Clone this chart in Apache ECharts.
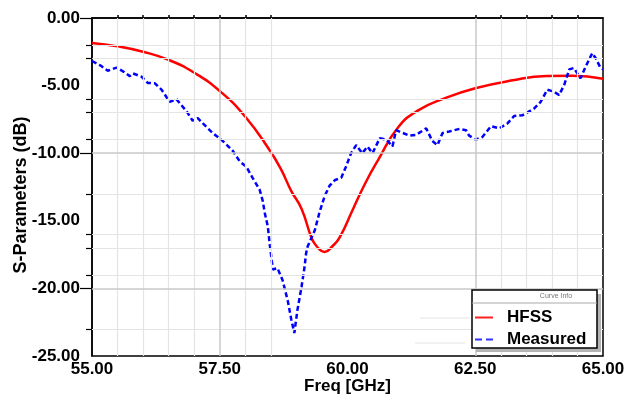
<!DOCTYPE html>
<html>
<head>
<meta charset="utf-8">
<script src="https://cdn.jsdelivr.net/npm/echarts@6/dist/echarts.min.js"></script>
<style>
  html, body { margin: 0; padding: 0; background: #fff; }
  #chart { width: 629px; height: 396px; }
</style>
</head>
<body>
<div id="chart"></div>
<script>
// HFSS simulation (red)
const hfssFreq = [55.0, 55.5, 56.0, 56.5, 57.0, 57.5, 58.0, 58.48, 58.7, 58.9, 59.1, 59.3, 59.4, 59.55, 59.7, 59.85, 60.1, 60.35, 60.6, 61.0, 61.4, 61.9, 62.5, 63.2, 63.9, 64.4, 65.0]
const hfssDb = [-1.85, -2.1, -2.5, -3.1, -4.05, -5.4, -7.3, -9.8, -11.2, -12.8, -14.1, -16.3, -16.9, -17.3, -16.9, -16.2, -14.2, -12.2, -10.5, -8.04, -6.8, -5.94, -5.2, -4.63, -4.29, -4.27, -4.5]

// measured (blue dashed)
const measFreq = [55.0, 55.16, 55.31, 55.48, 55.63, 55.74, 55.8, 55.97, 56.09, 56.23, 56.36, 56.52, 56.65, 56.85, 56.97, 57.07, 57.17, 57.36, 57.56, 57.75, 57.89, 58.02, 58.14, 58.28, 58.34, 58.38, 58.44, 58.48, 58.54, 58.63, 58.73, 58.83, 58.9, 58.96, 59.02, 59.1, 59.16, 59.19, 59.22, 59.36, 59.45, 59.55, 59.65, 59.75, 59.88, 59.97, 60.07, 60.17, 60.29, 60.39, 60.49, 60.63, 60.76, 60.88, 60.95, 61.21, 61.34, 61.54, 61.66, 61.76, 61.86, 61.99, 62.19, 62.32, 62.38, 62.51, 62.64, 62.81, 62.97, 63.13, 63.26, 63.42, 63.65, 63.78, 63.91, 64.04, 64.14, 64.24, 64.34, 64.43, 64.56, 64.66, 64.79, 64.86, 64.94, 65.0]
const measDb = [-3.18, -3.5, -3.9, -3.67, -4.0, -4.3, -4.1, -4.34, -4.8, -4.83, -5.3, -6.2, -6.0, -6.9, -7.6, -7.4, -7.8, -8.5, -9.1, -9.8, -10.6, -11.0, -11.8, -12.7, -13.5, -14.4, -15.4, -16.8, -18.6, -18.5, -19.4, -20.9, -22.3, -23.3, -21.6, -19.9, -18.4, -17.4, -16.9, -15.7, -14.4, -13.2, -12.4, -12.0, -11.8, -11.0, -10.0, -9.4, -10.0, -9.5, -10.0, -8.9, -9.0, -9.5, -8.3, -8.7, -8.65, -8.16, -9.1, -9.4, -8.5, -8.4, -8.2, -8.3, -8.7, -9.0, -8.8, -8.0, -8.16, -7.8, -7.25, -7.2, -6.7, -6.2, -5.3, -5.45, -5.7, -4.96, -3.8, -3.7, -4.46, -3.6, -2.6, -3.0, -3.6, -3.8]

// grid lines as seen in the picture
const xMajorGrid = [57.5, 62.5]
const xMinorGrid = [55.5, 56, 56.5, 57, 58, 58.5, 63, 63.5, 64, 64.5]
const yMajorGrid = [-10, -20]
const yMinorGrid = [-2, -3, -6, -7, -9, -13, -16, -17, -19, -23]

const FONT = 'Liberation Sans, Arial, sans-serif'
const zip = (xs, ys) => xs.map((x, i) => [x, ys[i]])

const gridLines = (xs, ys) => [
  ...xs.map(v => ({ xAxis: v })),
  ...ys.map(v => ({ yAxis: v }))
]

const chart = echarts.init(document.getElementById('chart'))

const option = {
  animation: false,
  grid: {
    left: 92, right: 26, top: 18, bottom: 40,
    outerBoundsMode: 'none',
    show: true, borderColor: '#000', borderWidth: 1.5, backgroundColor: 'transparent'
  },
  xAxis: {
    type: 'value',
    min: 55, max: 65, interval: 2.5,
    name: 'Freq [GHz]',
    nameLocation: 'middle',
    nameGap: 22,
    nameMoveOverlap: false,
    nameTextStyle: { fontFamily: FONT, fontWeight: 'bold', fontSize: 17, color: '#000' },
    axisLine: { lineStyle: { color: '#000', width: 1.5 } },
    axisTick: {
      inside: true, length: 3,
      customValues: [55.5, 56, 56.5, 57, 57.5, 58, 58.5, 62.5, 63, 63.5, 64, 64.5],
      lineStyle: { color: '#000', width: 1.5 }
    },
    axisLabel: {
      formatter: v => v.toFixed(2),
      fontFamily: FONT, fontWeight: 'bold', fontSize: 17, color: '#000', margin: 5
    },
    splitLine: { show: false }
  },
  yAxis: [{
    type: 'value',
    min: -25, max: 0, interval: 5,
    name: 'S-Parameters (dB)',
    nameLocation: 'middle',
    nameGap: 62,
    nameMoveOverlap: false,
    nameTextStyle: { fontFamily: FONT, fontWeight: 'bold', fontSize: 18, color: '#000', padding: [0, 16, 0, 0] },
    axisLine: { show: true, lineStyle: { color: '#000', width: 1.5 } },
    axisTick: {
      show: true, length: 6,
      customValues: [-2, -3, -6, -7, -9, -13, -16, -17, -19, -23],
      lineStyle: { color: '#000', width: 1.2 }
    },
    axisLabel: {
      formatter: v => v.toFixed(2),
      fontFamily: FONT, fontWeight: 'bold', fontSize: 17, color: '#000', margin: 12
    },
    splitLine: { show: false }
  }, {
    type: 'value',
    min: -25, max: 0,
    position: 'left',
    axisLine: { show: false },
    axisLabel: { show: false },
    axisTick: {
      show: true, length: 12,
      customValues: [0, -10, -20],
      lineStyle: { color: '#000', width: 1.2 }
    },
    splitLine: { show: false }
  }],
  legend: {
    orient: 'vertical',
    left: 475, top: 309,
    padding: 0,
    itemWidth: 18, itemHeight: 2, itemGap: 5,
    z: 20,
    textStyle: { fontFamily: FONT, fontWeight: 'bold', fontSize: 17, color: '#000', padding: [0, 0, 0, 9], lineHeight: 17 },
    data: [
      { name: 'HFSS', icon: 'path://M0,0h18v2h-18z' },
      { name: 'Measured', icon: 'path://M0,0h7v2h-7z M11,0h7v2h-7z' }
    ]
  },
  graphic: [
    { type: 'rect', z: 15, shape: { x: 476, y: 294, width: 125, height: 58 }, style: { fill: '#b4b4b4' } },
    { type: 'rect', z: 16, shape: { x: 472, y: 290, width: 125, height: 58 }, style: { fill: '#fff', stroke: '#000', lineWidth: 1.5 } },
    { type: 'line', z: 16, shape: { x1: 472, y1: 303, x2: 597, y2: 303 }, style: { stroke: '#aaa', lineWidth: 1 } },
    { type: 'text', z: 17, style: { text: 'Curve Info', x: 556, y: 293, fill: '#777', font: '7px ' + FONT, textAlign: 'center' } },
    { type: 'line', z: 16, shape: { x1: 420, y1: 318, x2: 470, y2: 318 }, style: { stroke: '#e4e4e4', lineWidth: 1 } },
    { type: 'line', z: 16, shape: { x1: 415, y1: 343, x2: 465, y2: 343 }, style: { stroke: '#e4e4e4', lineWidth: 1 } }
  ],
  series: [
    {
      name: 'minorGrid', type: 'line', data: [], z: 0, silent: true,
      markLine: {
        silent: true, symbol: 'none', label: { show: false },
        lineStyle: { color: '#e4e4e4', width: 1.2, type: 'solid' },
        data: gridLines(xMinorGrid, yMinorGrid)
      }
    },
    {
      name: 'majorGrid', type: 'line', data: [], z: 1, silent: true,
      markLine: {
        silent: true, symbol: 'none', label: { show: false },
        lineStyle: { color: '#c8c8c8', width: 1.5, type: 'solid' },
        data: gridLines(xMajorGrid, yMajorGrid)
      }
    },
    {
      name: 'HFSS', type: 'line', z: 3,
      data: zip(hfssFreq, hfssDb),
      smooth: true, showSymbol: false, symbol: 'none',
      lineStyle: { color: '#ff0000', width: 2.5 },
      itemStyle: { color: '#ff2020' }
    },
    {
      name: 'Measured', type: 'line', z: 4,
      data: zip(measFreq, measDb),
      showSymbol: false, symbol: 'none',
      lineStyle: { color: '#0000ff', width: 2.5, type: [5, 3] },
      itemStyle: { color: '#3030ff' }
    }
  ]
}
chart.setOption(option)
</script>
</body>
</html>
